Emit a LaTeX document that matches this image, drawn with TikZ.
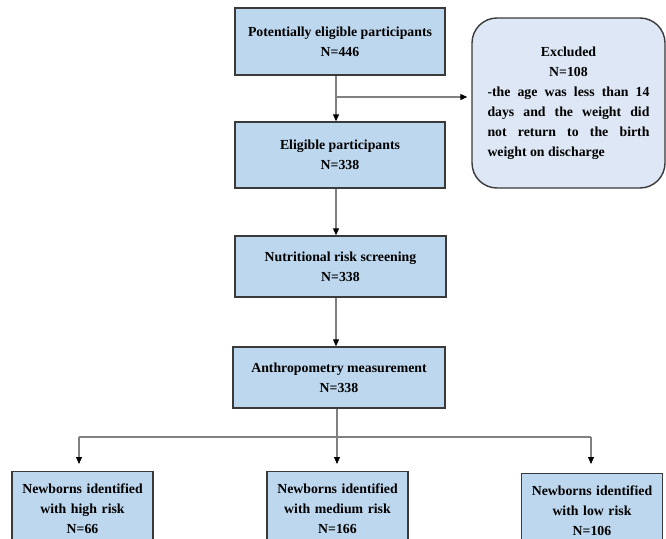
\documentclass[tikz,border=0pt]{standalone}
\usepackage{fontspec}
\setmainfont{Liberation Serif}
\usetikzlibrary{arrows.meta}
\definecolor{boxfill}{HTML}{BDD7EE}
\definecolor{exfill}{HTML}{DDE7F5}
\definecolor{border}{HTML}{3A3A3A}
\definecolor{conncol}{HTML}{808080}
\tikzset{
  txt/.style={font=\fontsize{13.8pt}{20pt}\selectfont\bfseries},
  flowbox/.style={txt, draw=border, line width=1.4pt, fill=boxfill, align=center, inner sep=2pt},
  lowbox/.style={txt, draw=border, line width=1.4pt, fill=boxfill, align=center, anchor=north,
    text width=130pt, inner xsep=5.5pt, inner ysep=11.6pt, minimum width=141pt},
  exbox/.style={txt, draw=border, line width=1.4pt, fill=exfill, rounded corners=25pt,
    text width=162pt, align=justify, inner xsep=15.5pt},
  conn/.style={draw=conncol, line width=1.1pt},
  arr/.style={conn, -{Triangle[length=7pt,width=6pt,color=black]}}
}
\begin{document}
\begin{tikzpicture}[x=1pt,y=-1pt]
\useasboundingbox (0,0) rectangle (666,538);
\clip (0,0) rectangle (666,538);
\node[flowbox, minimum width=210pt, minimum height=67pt] (p1) at (340,41.5) {Potentially eligible participants\\N=446};
\node[flowbox, minimum width=210pt, minimum height=66pt] (p2) at (340,155) {Eligible participants\\N=338};
\node[flowbox, minimum width=211pt, minimum height=61pt] (p3) at (340.5,266.5) {Nutritional risk screening\\N=338};
\node[flowbox, minimum width=212pt, minimum height=61pt] (p4) at (339,377.5) {Anthropometry measurement\\N=338};
\node[exbox, minimum width=193pt, minimum height=170pt] (ex) at (568.5,103)
  {\hyphenpenalty=10000\parindent=0pt
   {\leftskip=0pt plus 1fil\rightskip=0pt plus 1fil\parfillskip=0pt Excluded\par
    N=108\par}
   -{}the age was less than 14\linebreak days and the weight did\linebreak not return to the birth\linebreak weight on discharge};
\node[lowbox] (hi) at (82.5,471) {Newborns identified\\with high risk\\N=66};
\node[lowbox] (me) at (337.5,471) {Newborns identified\\with medium risk\\N=166};
\node[lowbox] (lo) at (592,473) {Newborns identified\\with low risk\\N=106};
% connectors
\coordinate (a1) at (336,97);
\draw[arr] (p1.south -| a1) -- (p2.north -| a1);
\draw[arr, shorten >=4pt] (a1) -- (ex.west |- a1);
\coordinate (a2) at (336,200);
\draw[arr] (p2.south -| a2) -- (p3.north -| a2);
\draw[arr] (p3.south -| a2) -- (p4.north -| a2);
\coordinate (b) at (337,437);
\coordinate (bl) at (79,437);
\coordinate (br) at (591,437);
\draw[conn] (bl) -- (br);
\draw[arr, shorten >=7pt] (p4.south -| b) -- (me.north -| b);
\draw[arr, shorten >=7pt] (bl) -- (hi.north -| bl);
\draw[arr, shorten >=9pt] (br) -- (lo.north -| br);
\end{tikzpicture}
\end{document}
